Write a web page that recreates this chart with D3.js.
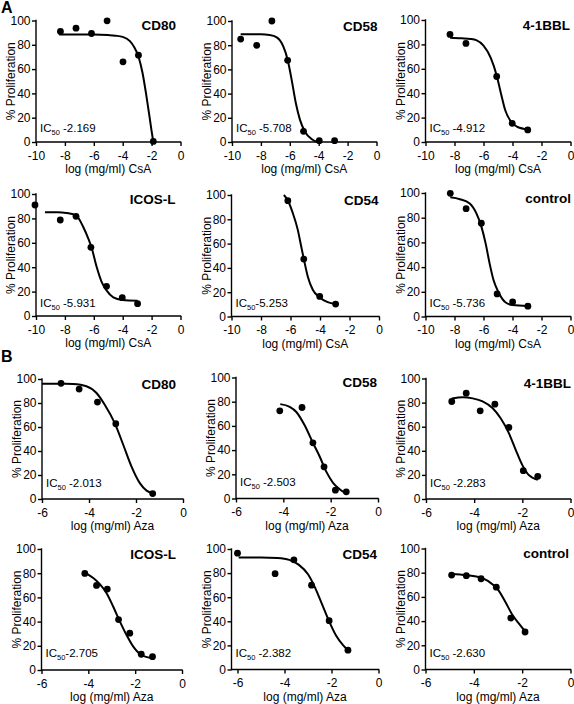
<!DOCTYPE html>
<html><head><meta charset="utf-8">
<script src="https://cdn.jsdelivr.net/npm/d3@7"></script>
<style>
body{margin:0;background:#fff}
svg{display:block}
text{font-family:"Liberation Sans",Arial,Helvetica,sans-serif;fill:#000}
</style>
</head><body>
<svg id="c" width="574" height="704"></svg>
<script>
// ---------- data ----------
const csaMarkers = ["CD80", "CD58", "4-1BBL", "ICOS-L", "CD54", "control"];
// IC50 labels exactly as printed (some have no space after the subscript)
const csaIC50 = [" -2.169", " -5.708", " -4.912", " -5.931", "-5.253", " -5.736"];
const azaMarkers = ["CD80", "CD58", "4-1BBL", "ICOS-L", "CD54", "control"];
const azaIC50 = [" -2.013", " -2.503", " -2.283", "-2.705", " -2.382", " -2.630"];
const csaTicks = [-10, -8, -6, -4, -2, 0];
const azaTicks = [-6, -4, -2, 0];
const yTicks = [0, 20, 40, 60, 80, 100];
const csaLabel = "log (mg/ml) CsA";
const azaLabel = "log (mg/ml) Aza";
const yLabel = "% Proliferation";

const csaCD80Points = [[-8.31, 91.0], [-7.23, 93.7], [-6.16, 89.3], [-5.08, 99.7], [-3.98, 66.0], [-2.91, 71.5], [-1.88, 0.5]];
const csaCD80Fit = [[-8.4, 88.5], [-6, 88.5], [-5, 88], [-4.5, 87.5], [-4, 86.5], [-3.5, 83], [-3.2, 78], [-2.9, 70], [-2.63, 57], [-2.4, 41], [-2.17, 23], [-2.0, 9], [-1.88, 0]];
const csaCD58Points = [[-9.40, 85.1], [-8.29, 79.9], [-7.24, 100], [-6.15, 67.5], [-5.05, 8.8], [-3.96, 1.1], [-2.90, 1.1]];
const csaCD58Fit = [[-9.4, 89], [-8, 89], [-7.4, 88.5], [-6.9, 86.5], [-6.45, 79], [-6.15, 68], [-5.88, 52], [-5.58, 32], [-5.3, 18.5], [-4.95, 8.5], [-4.5, 2.5], [-4.1, 0]];
const csa41BBLPoints = [[-8.31, 88.2], [-7.21, 80.8], [-5.09, 53.7], [-4.02, 15.3], [-2.95, 9.9]];
const csa41BBLFit = [[-8.3, 85.5], [-7.5, 85], [-6.9, 84.5], [-6.5, 83.5], [-6, 79], [-5.5, 69], [-5.1, 55], [-4.8, 40], [-4.5, 26], [-4.1, 16.5], [-3.65, 12.3], [-2.95, 10.3]];
const csaICOSLPoints = [[-10.07, 91.0], [-8.32, 78.7], [-7.23, 81.7], [-6.2, 56.3], [-5.12, 24.3], [-4.03, 15.0], [-2.97, 10.1]];
const csaICOSLFit = [[-9.38, 85], [-8.5, 85], [-7.9, 84.5], [-7.23, 82.5], [-6.73, 73], [-6.38, 63.5], [-6.15, 56], [-5.81, 40.5], [-5.46, 28], [-5.12, 21], [-4.65, 15.3], [-4.03, 13.2], [-2.97, 12.6]];
const csaCD54Points = [[-6.18, 95.3], [-5.10, 47.3], [-4.02, 16.5], [-2.94, 10.2]];
const csaCD54Fit = [[-6.45, 100], [-6.18, 95.5], [-5.84, 85], [-5.51, 71.5], [-5.28, 58], [-5.1, 47.5], [-4.83, 33], [-4.49, 22], [-4.02, 15.7], [-3.48, 11.8], [-2.94, 10.2]];
const csaControlPoints = [[-8.29, 99.7], [-7.20, 87.3], [-6.15, 75.5], [-5.06, 18.3], [-3.99, 11.9], [-2.94, 8.4]];
const csaControlFit = [[-8.29, 96.5], [-7.63, 95], [-6.95, 91.5], [-6.49, 83.5], [-6.15, 73], [-5.85, 59], [-5.58, 43], [-5.31, 29.5], [-4.94, 19], [-4.49, 11.5], [-3.99, 9.3], [-2.94, 8.6]];

// Aza panels
const azaCD80Points = [[-5.19, 96.4], [-4.42, 91.6], [-3.64, 80.8], [-2.86, 62.7], [-1.29, 4.5]];
const azaCD80Fit = [[-6, 96], [-5, 96], [-4.68, 95.8], [-4.11, 94], [-3.68, 88.3], [-3.33, 78.5], [-2.9, 63], [-2.54, 45], [-2.19, 27], [-1.83, 13], [-1.55, 7], [-1.29, 4.7]];
const azaCD58Points = [[-4.15, 72.5], [-3.21, 75.2], [-2.75, 46], [-2.28, 26.2], [-1.80, 6.9], [-1.34, 5.5]];
const azaCD58Fit = [[-4.13, 78], [-3.73, 75.8], [-3.45, 71.5], [-3.1, 60.5], [-2.75, 46], [-2.46, 34.5], [-2.18, 22], [-1.9, 13], [-1.62, 7.7], [-1.34, 4]];
const aza41BBLPoints = [[-4.93, 80.9], [-4.33, 87.8], [-3.75, 73.2], [-3.14, 78.7], [-2.56, 59.4], [-1.96, 23.5], [-1.36, 18.8]];
const aza41BBLFit = [[-4.93, 83.5], [-4.47, 84.5], [-4.06, 83.5], [-3.65, 81], [-3.24, 75.5], [-2.9, 67], [-2.56, 54.7], [-2.28, 41], [-2.01, 28.5], [-1.74, 20], [-1.36, 16]];
const azaICOSLPoints = [[-4.15, 79.8], [-3.65, 69.9], [-3.19, 66.9], [-2.71, 41.7], [-2.23, 30.4], [-1.74, 13], [-1.26, 11]];
const azaICOSLFit = [[-4.15, 80.5], [-3.79, 76], [-3.51, 71], [-3.22, 63.5], [-2.94, 52.5], [-2.65, 40], [-2.37, 29], [-2.08, 19.3], [-1.73, 12.4], [-1.26, 9.7]];
const azaCD54Points = [[-6.0, 96.5], [-4.4, 79.5], [-3.6, 91], [-2.85, 70], [-2.1, 40.5], [-1.3, 16]];
const azaCD54Fit = [[-5.95, 93], [-5, 93], [-4.3, 92.5], [-3.8, 91], [-3.4, 87], [-3.0, 79], [-2.7, 68], [-2.4, 54], [-2.1, 40], [-1.8, 28], [-1.5, 20], [-1.3, 16]];
const azaControlPoints = [[-4.92, 78], [-4.31, 77.5], [-3.7, 75], [-3.07, 68], [-2.47, 42.5], [-1.88, 31]];
const azaControlFit = [[-4.92, 79], [-4.31, 78], [-3.8, 76.5], [-3.4, 73], [-3.0, 66], [-2.7, 56], [-2.4, 45], [-2.1, 37], [-1.88, 31.5]];

// ---------- build panel list ----------
const csaPts = [csaCD80Points, csaCD58Points, csa41BBLPoints, csaICOSLPoints, csaCD54Points, csaControlPoints];
const csaFits = [csaCD80Fit, csaCD58Fit, csa41BBLFit, csaICOSLFit, csaCD54Fit, csaControlFit];
const azaPts = [azaCD80Points, azaCD58Points, aza41BBLPoints, azaICOSLPoints, azaCD54Points, azaControlPoints];
const azaFits = [azaCD80Fit, azaCD58Fit, aza41BBLFit, azaICOSLFit, azaCD54Fit, azaControlFit];

// layout: [axisX, x of first tick, x of 0, y of 100, y of 0, title right edge, IC50 offset]
const boxes = [
  [36, 36, 180.5, 20.5, 142, 176, 10], [232, 232, 376.5, 21, 142, 377.5, 10], [425.5, 425.5, 570.5, 20, 142, 570, 10],
  [36, 36, 180.5, 194, 316, 175.5, 9.5], [231.5, 231.5, 379, 195, 316.5, 378.5, 9.5], [425.5, 425.5, 570.5, 193, 316.5, 571, 9.5],
  [42, 42, 183, 379, 499, 176, 12.5], [236, 236, 378, 377.5, 498.5, 377, 12.5], [426, 426, 570.5, 378.5, 499, 571, 12.5],
  [41.5, 41.5, 182, 549, 670, 176, 13], [231.5, 237.5, 378.5, 549, 669.5, 377, 13], [425.5, 425.5, 570.5, 548.5, 669.5, 569, 13]
];

const panels = [];
for (let i = 0; i < 6; i++) panels.push({name: csaMarkers[i], ic: csaIC50[i], pts: csaPts[i], fit: csaFits[i], ticks: csaTicks, xlab: csaLabel});
for (let i = 0; i < 6; i++) panels.push({name: azaMarkers[i], ic: azaIC50[i], pts: azaPts[i], fit: azaFits[i], ticks: azaTicks, xlab: azaLabel});

const svg = d3.select("#c");
const FS = 12;

panels.forEach((p, i) => {
  const [ax, x0, x1, top, bot, tr, icOff] = boxes[i];
  const x = d3.scaleLinear().domain([p.ticks[0], 0]).range([x0, x1]);
  const y = d3.scaleLinear().domain([0, 100]).range([bot, top]);
  const g = svg.append("g");

  // axes
  const xa = g.append("g").attr("transform", `translate(0,${bot})`)
    .call(d3.axisBottom(x).tickValues(p.ticks).tickSize(4).tickPadding(5).tickFormat(d => String(d)));
  const ya = g.append("g").attr("transform", `translate(${ax},0)`)
    .call(d3.axisLeft(y).tickValues(yTicks).tickSize(4).tickPadding(1.5).tickFormat(d => String(d)));
  [xa, ya].forEach(a => {
    a.select(".domain").remove();
    a.selectAll("line").attr("stroke", "#000").attr("stroke-width", 1.4);
    a.selectAll("text").attr("font-size", FS).attr("font-family", null).attr("fill", "#000");
  });
  g.append("line").attr("x1", ax).attr("x2", x1 + 0.7).attr("y1", bot).attr("y2", bot).attr("stroke", "#000").attr("stroke-width", 1.4);
  g.append("line").attr("x1", ax).attr("x2", ax).attr("y1", top - 0.7).attr("y2", bot + 0.7).attr("stroke", "#000").attr("stroke-width", 1.4);

  // fit curve
  g.append("path").datum(p.fit)
    .attr("d", d3.line().x(d => x(d[0])).y(d => y(d[1])).curve(d3.curveMonotoneX))
    .attr("fill", "none").attr("stroke", "#000").attr("stroke-width", 2);

  // points
  g.selectAll("circle.pt").data(p.pts).join("circle").attr("class", "pt")
    .attr("cx", d => x(d[0])).attr("cy", d => y(d[1])).attr("r", 3.4).attr("fill", "#000");

  // title
  g.append("text").attr("x", tr).attr("y", top + 9.5).attr("text-anchor", "end")
    .attr("font-size", 13.5).attr("font-weight", "bold").text(p.name);

  // IC50
  const t = g.append("text").attr("x", ax + 4).attr("y", bot - icOff).attr("font-size", 11.5);
  t.append("tspan").text("IC");
  t.append("tspan").attr("font-size", 7.5).attr("dy", 3).text("50");
  t.append("tspan").attr("dy", -3).text(p.ic);

  // axis labels
  g.append("text").attr("x", (ax + x1) / 2).attr("y", bot + 31).attr("text-anchor", "middle")
    .attr("font-size", FS).text(p.xlab);
  g.append("text").attr("transform", `translate(${ax - 21},${(top + bot) / 2}) rotate(-90)`)
    .attr("text-anchor", "middle").attr("font-size", FS).text(yLabel);
});

svg.append("text").attr("x", 1).attr("y", 13).attr("font-size", 16).attr("font-weight", "bold").text("A");
svg.append("text").attr("x", 1).attr("y", 362).attr("font-size", 16).attr("font-weight", "bold").text("B");
</script>
</body></html>
